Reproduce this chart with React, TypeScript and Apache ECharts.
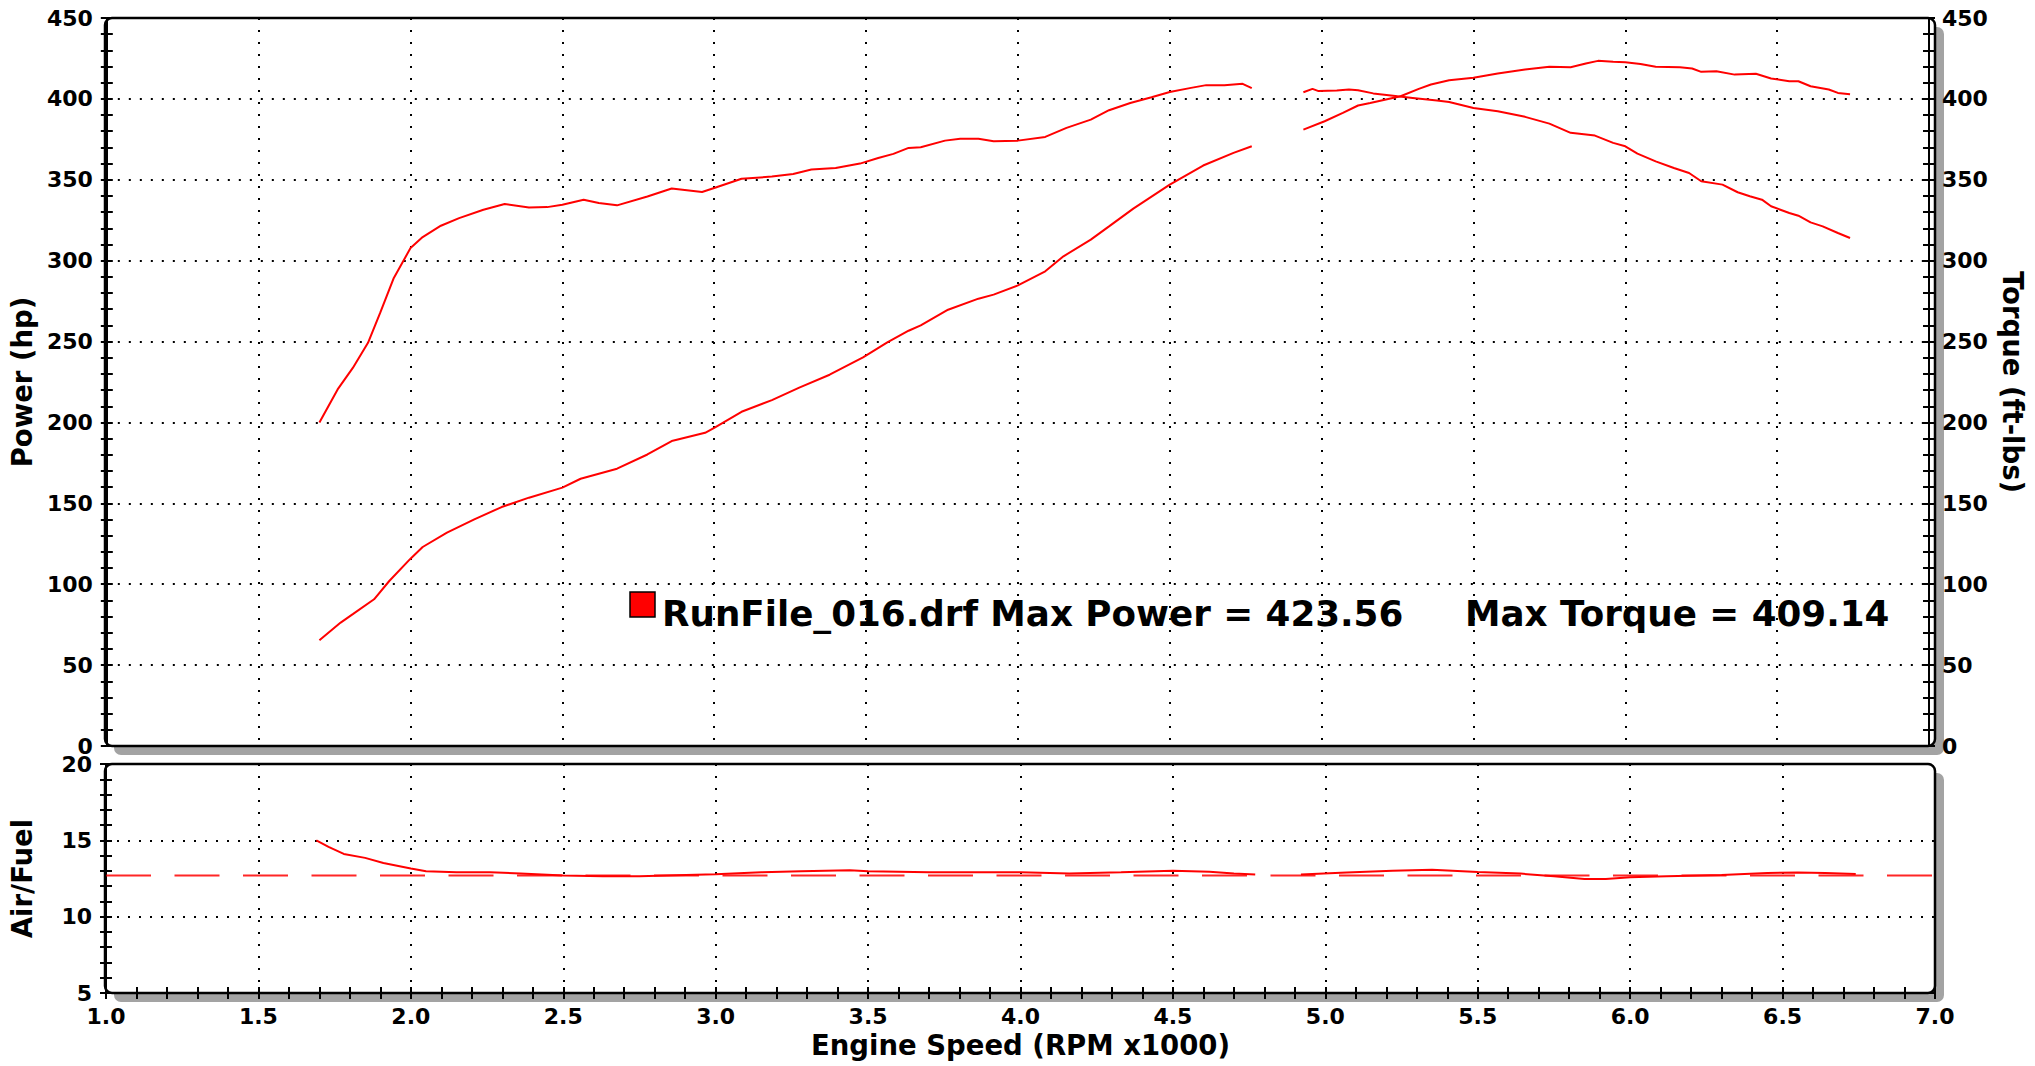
import React, { useEffect, useRef } from "react";
import * as echarts from "echarts";

// ---- data ----
const torqueRpm = [
  1.70, 1.76, 1.81, 1.86, 1.90, 1.945, 2.00, 2.04, 2.10, 2.16, 2.24, 2.31, 2.39, 2.45, 2.50, 2.57,
  2.62, 2.68, 2.78, 2.86, 2.96, 3.00, 3.09, 3.19, 3.26, 3.32, 3.40, 3.48, 3.54, 3.59, 3.64, 3.68,
  3.76, 3.81, 3.87, 3.92, 4.00, 4.09, 4.16, 4.24, 4.30, 4.37, 4.44, 4.50, 4.57, 4.62, 4.68, 4.74,
  4.77, 4.85, 4.94, 4.97, 4.99, 5.05, 5.09, 5.12, 5.17, 5.25, 5.30, 5.38, 5.42, 5.50, 5.58, 5.67,
  5.75, 5.82, 5.90, 5.96, 6.00, 6.04, 6.10, 6.16, 6.21, 6.25, 6.32, 6.37, 6.41, 6.45, 6.48, 6.54,
  6.57, 6.61, 6.65, 6.70, 6.74,
];
const torqueFtLbs = [
  200, 220.4, 233.7, 249.2, 267.7, 289.3, 307.8, 314.6, 321.6, 326.3, 331.5, 335, 332.9, 333.1, 334.6, 337.7,
  335.6, 334.2, 339.7, 344.6, 342.4, 344.9, 350.6, 352, 353.6, 356.3, 357.3, 360, 363.5, 366, 369.7, 370.1,
  374.2, 375.3, 375.3, 373.8, 374.2, 376.5, 382.1, 387.2, 393, 397.5, 401, 404.3, 406.8, 408.5, 408.5, 409.3,
  406.6, null, 404.1, 406.2, 404.8, 405.2, 405.8, 405.4, 403.4, 401.6, 400.6, 399, 398.1, 394.4, 392.4, 388.9,
  384.7, 379, 377.3, 372.8, 370.7, 366.2, 361.4, 357.3, 354.2, 349.1, 347, 342.3, 339.8, 337.7, 333.6, 329.5,
  327.8, 323.7, 321.2, 317.1, 314,
];

const powerRpm = [
  1.70, 1.77, 1.81, 1.88, 1.93, 2.00, 2.04, 2.12, 2.21, 2.30, 2.39, 2.50, 2.56, 2.68, 2.78, 2.86,
  2.97, 3.00, 3.09, 3.19, 3.28, 3.38, 3.49, 3.57, 3.64, 3.68, 3.77, 3.87, 3.92, 4.00, 4.09, 4.15,
  4.24, 4.30, 4.38, 4.50, 4.61, 4.71, 4.77, 4.85, 4.94, 5.01, 5.07, 5.12, 5.16, 5.26, 5.32, 5.36,
  5.42, 5.50, 5.58, 5.67, 5.75, 5.82, 5.87, 5.91, 5.96, 6.00, 6.05, 6.10, 6.18, 6.22, 6.25, 6.30,
  6.36, 6.43, 6.48, 6.54, 6.57, 6.61, 6.67, 6.70, 6.74,
];
const powerHp = [
  65.4, 76.3, 81.5, 90.7, 102, 115.8, 123, 131.9, 140.1, 147.7, 153.5, 159.7, 165.2, 171.4, 180.2, 188.5,
  193.6, 196.7, 206.6, 213.8, 221.5, 229.5, 240.2, 249.5, 256.7, 260, 269.7, 276.5, 279, 284.7, 293.4, 302.7,
  313, 321.2, 332.2, 347, 358.8, 366.6, 370.7, null, 381, 386.2, 391.3, 395.9, 397.5, 401.6, 406.2, 408.9,
  411.5, 413, 415.7, 418.1, 419.8, 419.6, 421.9, 423.5, 422.9, 422.7, 421.6, 419.8, 419.6, 418.8, 416.7, 417.1,
  415, 415.5, 412.6, 410.9, 410.9, 407.8, 405.8, 403.7, 402.9,
];

const afrRpm = [
  1.69, 1.73, 1.78, 1.85, 1.91, 2.00, 2.05, 2.15, 2.26, 2.36, 2.50, 2.63, 2.75, 2.87, 3.00, 3.15,
  3.28, 3.44, 3.50, 3.70, 4.00, 4.16, 4.33, 4.50, 4.62, 4.70, 4.77, 4.85, 4.92, 5.07, 5.22, 5.35,
  5.50, 5.64, 5.75, 5.85, 5.92, 6.00, 6.12, 6.30, 6.45, 6.55, 6.64, 6.74,
];
const afrRatio = [
  15.0, 14.57, 14.11, 13.85, 13.52, 13.15, 12.98, 12.91, 12.91, 12.83, 12.7, 12.65, 12.65, 12.72, 12.78, 12.91,
  12.98, 13.04, 12.98, 12.91, 12.91, 12.83, 12.91, 13.0, 12.94, 12.82, 12.76, null, 12.77, 12.9, 13.01, 13.08,
  12.93, 12.82, 12.64, 12.47, 12.47, 12.58, 12.64, 12.73, 12.86, 12.9, 12.86, 12.79,
];

const afrTargetRpm = [1.0, 7.0];
const afrTarget = [12.7, 12.7];

const rpmRange = [1.0, 7.0];
const powerRange = [0, 450];
const afrRange = [5, 20];

const legendText = "RunFile_016.drf Max Power = 423.56";
const torqueText = "Max Torque = 409.14";

// ---- layout ----
const W = 2035;
const H = 1066;
const GL = 105;
const GR = 100;
const GW = W - GL - GR;
const T1 = 18;
const H1 = 728;
const T2 = 764;
const H2 = 229;
const FONT = "DejaVu Sans";
const RED = "#ff0000";

const pairs = (xs: number[], ys: (number | null)[]) =>
  xs.map((x, i) => [x, ys[i] === null ? "-" : ys[i]]);

const labelStyle = { color: "#000", fontFamily: FONT, fontWeight: "bold" as const, fontSize: 22 };
const nameStyle = { color: "#000", fontFamily: FONT, fontWeight: "bold" as const, fontSize: 27.5 };
const tickLine = { color: "#000", width: 2 };
const dottedH = { color: "#000", width: 2, type: [2, 9] as number[] };
const dottedV = { color: "#000", width: 2, type: [2, 10] as number[] };

export default function App() {
  const ref = useRef<HTMLDivElement>(null);
  useEffect(() => {
    if (!ref.current) return;
    const chart = echarts.init(ref.current, undefined, { renderer: "svg" });

    const baseX = {
      type: "value" as const,
      min: rpmRange[0],
      max: rpmRange[1],
      interval: 0.5,
    };

    const option: any = {
      animation: false,
      backgroundColor: "#fff",
      grid: [
        { left: GL, right: GR, top: T1, height: H1, containLabel: false },
        { left: GL, right: GR, top: T2, height: H2, containLabel: false },
      ],
      xAxis: [
        {
          ...baseX,
          gridIndex: 0,
          axisLine: { show: false },
          axisTick: { show: false },
          axisLabel: { show: false },
          splitLine: { show: true, showMinLine: false, showMaxLine: false, lineStyle: dottedV },
        },
        {
          ...baseX,
          gridIndex: 1,
          position: "bottom",
          axisLine: { show: true, lineStyle: tickLine },
          axisTick: { show: true, length: 6, lineStyle: tickLine },
          minorTick: { show: true, splitNumber: 5, length: 6, lineStyle: tickLine },
          axisLabel: {
            ...labelStyle,
            margin: 12,
            showMinLabel: true,
            showMaxLabel: true,
            formatter: (v: number) => v.toFixed(1),
          },
          splitLine: { show: true, showMinLine: false, showMaxLine: false, lineStyle: dottedV },
          name: "Engine Speed (RPM x1000)",
          nameLocation: "middle",
          nameGap: 38,
          nameTextStyle: nameStyle,
        },
        {
          ...baseX,
          gridIndex: 1,
          position: "bottom",
          axisLine: { show: false },
          axisTick: { show: true, inside: true, length: 6, lineStyle: tickLine },
          minorTick: { show: true, splitNumber: 5, length: 6, lineStyle: tickLine },
          axisLabel: { show: false },
          splitLine: { show: false },
        },
      ],
      yAxis: [
        {
          type: "value",
          gridIndex: 0,
          position: "left",
          min: powerRange[0],
          max: powerRange[1],
          interval: 50,
          axisLine: { show: true, lineStyle: tickLine },
          axisTick: { show: true, length: 6, lineStyle: tickLine },
          minorTick: { show: true, splitNumber: 5, length: 6, lineStyle: tickLine },
          axisLabel: { ...labelStyle, margin: 14 },
          splitLine: { show: true, showMinLine: false, showMaxLine: false, lineStyle: dottedH },
          name: "Power (hp)",
          nameLocation: "middle",
          nameRotate: 90,
          nameGap: 70,
          nameTextStyle: nameStyle,
        },
        {
          type: "value",
          gridIndex: 0,
          position: "right",
          min: powerRange[0],
          max: powerRange[1],
          interval: 50,
          axisLine: { show: true, lineStyle: tickLine },
          axisTick: { show: true, length: 6, lineStyle: tickLine },
          minorTick: { show: true, splitNumber: 5, length: 6, lineStyle: tickLine },
          axisLabel: { ...labelStyle, margin: 13 },
          splitLine: { show: false },
          name: "Torque (ft-lbs)",
          nameLocation: "middle",
          nameRotate: -90,
          nameGap: 70,
          nameTextStyle: nameStyle,
        },
        {
          type: "value",
          gridIndex: 0,
          position: "left",
          min: powerRange[0],
          max: powerRange[1],
          interval: 50,
          axisLine: { show: false },
          axisTick: { show: true, inside: true, length: 6, lineStyle: tickLine },
          minorTick: { show: true, splitNumber: 5, length: 6, lineStyle: tickLine },
          axisLabel: { show: false },
          splitLine: { show: false },
        },
        {
          type: "value",
          gridIndex: 0,
          position: "right",
          min: powerRange[0],
          max: powerRange[1],
          interval: 50,
          axisLine: { show: false },
          axisTick: { show: true, inside: true, length: 6, lineStyle: tickLine },
          minorTick: { show: true, splitNumber: 5, length: 6, lineStyle: tickLine },
          axisLabel: { show: false },
          splitLine: { show: false },
        },
        {
          type: "value",
          gridIndex: 1,
          position: "left",
          min: afrRange[0],
          max: afrRange[1],
          interval: 5,
          axisLine: { show: true, lineStyle: tickLine },
          axisTick: { show: true, length: 6, lineStyle: tickLine },
          minorTick: { show: true, splitNumber: 5, length: 6, lineStyle: tickLine },
          axisLabel: { ...labelStyle, margin: 14 },
          splitLine: { show: true, showMinLine: false, showMaxLine: false, lineStyle: dottedH },
          name: "Air/Fuel",
          nameLocation: "middle",
          nameRotate: 90,
          nameGap: 70,
          nameTextStyle: nameStyle,
        },
        {
          type: "value",
          gridIndex: 1,
          position: "left",
          min: afrRange[0],
          max: afrRange[1],
          interval: 5,
          axisLine: { show: false },
          axisTick: { show: true, inside: true, length: 6, lineStyle: tickLine },
          minorTick: { show: true, splitNumber: 5, length: 6, lineStyle: tickLine },
          axisLabel: { show: false },
          splitLine: { show: false },
        },
      ],
      series: [
        {
          name: "Torque",
          type: "line",
          xAxisIndex: 0,
          yAxisIndex: 1,
          data: pairs(torqueRpm, torqueFtLbs),
          showSymbol: false,
          symbol: "none",
          connectNulls: false,
          lineStyle: { color: RED, width: 2 },
          itemStyle: { color: RED },
          z: 5,
        },
        {
          name: "Power",
          type: "line",
          xAxisIndex: 0,
          yAxisIndex: 0,
          data: pairs(powerRpm, powerHp),
          showSymbol: false,
          symbol: "none",
          connectNulls: false,
          lineStyle: { color: RED, width: 2 },
          itemStyle: { color: RED },
          z: 5,
        },
        {
          name: "Air/Fuel",
          type: "line",
          xAxisIndex: 1,
          yAxisIndex: 4,
          data: pairs(afrRpm, afrRatio),
          showSymbol: false,
          symbol: "none",
          connectNulls: false,
          lineStyle: { color: RED, width: 2 },
          itemStyle: { color: RED },
          z: 5,
        },
        {
          name: "Air/Fuel target",
          type: "line",
          xAxisIndex: 1,
          yAxisIndex: 4,
          data: pairs(afrTargetRpm, afrTarget),
          showSymbol: false,
          symbol: "none",
          lineStyle: { color: RED, width: 2, type: [45, 23.5], opacity: 0.85 },
          itemStyle: { color: RED },
          z: 4,
        },
      ],
      graphic: {
        elements: [
          {
            type: "rect",
            z: -20,
            silent: true,
            shape: { x: GL + 9, y: T1 + 9, width: GW, height: H1, r: 7 },
            style: { fill: "#a3a3a3" },
          },
          {
            type: "rect",
            z: -19,
            silent: true,
            shape: { x: GL, y: T1, width: GW, height: H1, r: 7 },
            style: { fill: "#fff" },
          },
          {
            type: "rect",
            z: -20,
            silent: true,
            shape: { x: GL + 9, y: T2 + 9, width: GW, height: H2, r: 7 },
            style: { fill: "#a3a3a3" },
          },
          {
            type: "rect",
            z: -19,
            silent: true,
            shape: { x: GL, y: T2, width: GW, height: H2, r: 7 },
            style: { fill: "#fff" },
          },
          {
            type: "rect",
            z: 100,
            silent: true,
            shape: { x: GL, y: T1, width: GW, height: H1, r: 7 },
            style: { fill: "none", stroke: "#000", lineWidth: 2.5 },
          },
          {
            type: "rect",
            z: 100,
            silent: true,
            shape: { x: GL, y: T2, width: GW, height: H2, r: 7 },
            style: { fill: "none", stroke: "#000", lineWidth: 2.5 },
          },
          {
            type: "rect",
            z: 101,
            silent: true,
            shape: { x: 630, y: 592, width: 25, height: 25 },
            style: { fill: RED, stroke: "#000", lineWidth: 1.5 },
          },
          {
            type: "text",
            z: 101,
            silent: true,
            x: 662,
            y: 613,
            style: {
              text: legendText,
              fontFamily: FONT,
              fontWeight: "bold",
              fontSize: 35.7,
              fill: "#000",
              align: "left",
              verticalAlign: "middle",
              textAlign: "left",
              textVerticalAlign: "middle",
            },
          },
          {
            type: "text",
            z: 101,
            silent: true,
            x: 1465,
            y: 613,
            style: {
              text: torqueText,
              fontFamily: FONT,
              fontWeight: "bold",
              fontSize: 35.7,
              fill: "#000",
              align: "left",
              verticalAlign: "middle",
              textAlign: "left",
              textVerticalAlign: "middle",
            },
          },
        ],
      },
    };

    chart.setOption(option);
    return () => chart.dispose();
  }, []);

  return (
    <div
      ref={ref}
      style={{ position: "fixed", left: 0, top: 0, width: W, height: H, background: "#fff" }}
    />
  );
}
